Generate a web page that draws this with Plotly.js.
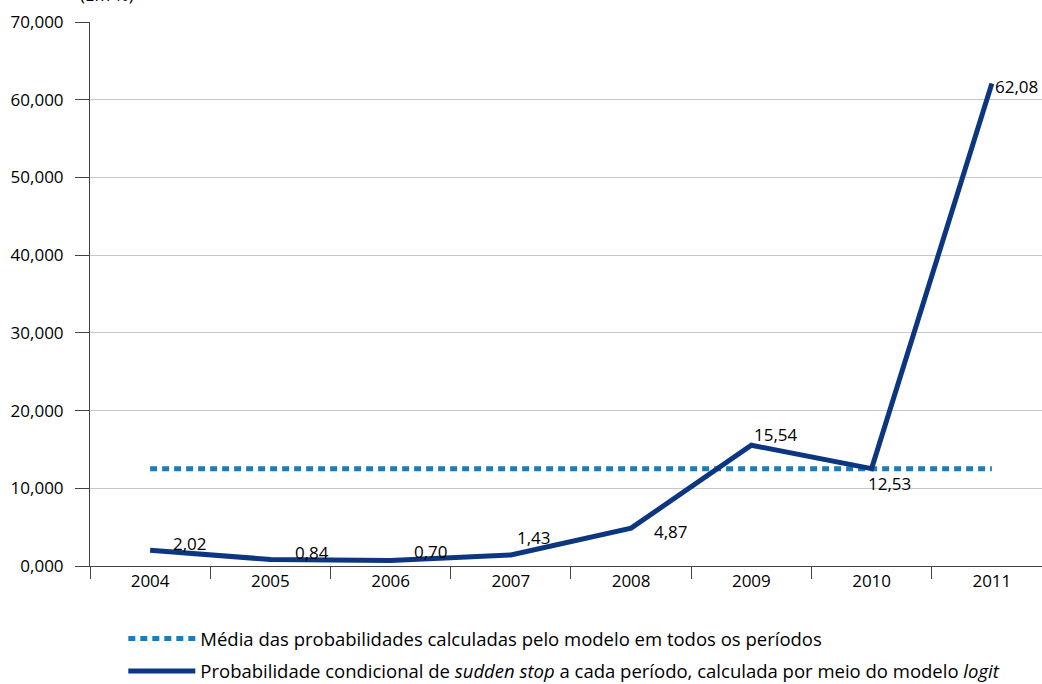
<!DOCTYPE html>
<html>
<head>
<meta charset="utf-8">
<script src="https://cdn.plot.ly/plotly-3.0.1.min.js"></script>
<style>html,body{margin:0;padding:0;background:#fff;}#chart{width:1042px;height:684px;}</style>
</head>
<body>
<div id="chart"></div>
<script>
const years = ['2004','2005','2006','2007','2008','2009','2010','2011'];
const probValues = [2.02, 0.84, 0.70, 1.43, 4.87, 15.54, 12.53, 62.08];
const probLabels = ['2,02','0,84','0,70','1,43','4,87','15,54','12,53','62,08'];
const meanValue = 12.50;
const yTickVals = [0, 10, 20, 30, 40, 50, 60, 70];
const yTickText = ['0,000','10,000','20,000','30,000','40,000','50,000','60,000','70,000'];
const meanName = 'Média das probabilidades calculadas pelo modelo em todos os períodos';
const probName = 'Probabilidade condicional de <i>sudden stop</i> a cada período, calculada por meio do modelo <i>logit</i>';
const unitLabel = '(Em %)';

const FONT = 'Open Sans, Noto Sans, sans-serif';
const FS = 17;
const LFS = 18.5;
// label offsets (px) for each data label
const labelOffsets = [[40,7],[42,7],[40,9],[23,17],[40,-3],[25,11],[18,-15],[25,-3]];

const traces = [
  {
    x: years, y: years.map(() => meanValue), type: 'scatter', mode: 'lines',
    name: meanName, legend: 'legend',
    line: {color: '#1a7db8', width: 5, dash: '7px,5px'}
  },
  {
    x: years, y: probValues, type: 'scatter', mode: 'lines',
    name: probName, legend: 'legend2',
    line: {color: '#0d3680', width: 5}
  }
];

const annotations = probLabels.map((t, i) => ({
  x: i, y: probValues[i], xref: 'x', yref: 'y', text: t, showarrow: false,
  xanchor: 'center', yanchor: 'middle',
  xshift: labelOffsets[i][0], yshift: labelOffsets[i][1],
  font: {family: FONT, size: FS, color: '#000'}
}));
annotations.push({
  x: 0.018, y: 1, xref: 'paper', yref: 'paper', xanchor: 'center', yanchor: 'bottom', yshift: 14,
  text: unitLabel, showarrow: false, font: {family: FONT, size: FS, color: '#000'}
});

const layout = {
  width: 1042, height: 684,
  margin: {l: 90, r: 0, t: 22, b: 118, autoexpand: false},
  paper_bgcolor: '#fff', plot_bgcolor: '#fff',
  font: {family: FONT, size: FS, color: '#000'},
  xaxis: {
    type: 'category', range: [-0.5, 7.417], tickson: 'boundaries',
    ticks: 'outside', ticklen: 12, tickcolor: '#444', tickwidth: 1,
    showline: true, linecolor: '#444', linewidth: 1,
    showgrid: false, zeroline: false, tickfont: {size: FS, family: FONT}
  },
  yaxis: {
    range: [0, 70], tickvals: yTickVals, ticktext: yTickText,
    ticks: 'outside', ticklen: 14, tickcolor: '#444', tickwidth: 1,
    showline: true, linecolor: '#444', linewidth: 1,
    showgrid: true, gridcolor: '#c8c8c8', gridwidth: 1, zeroline: false,
    ticklabelstandoff: 8, tickfont: {size: FS, family: FONT}
  },
  showlegend: true,
  legend: {x: 0.035, y: -0.134, xanchor: 'left', yanchor: 'middle', xref: 'paper', yref: 'paper',
           bgcolor: 'rgba(0,0,0,0)', font: {size: LFS, family: FONT}, itemwidth: 67},
  legend2: {x: 0.035, y: -0.194, xanchor: 'left', yanchor: 'middle', xref: 'paper', yref: 'paper',
           bgcolor: 'rgba(0,0,0,0)', font: {size: LFS, family: FONT}, itemwidth: 67},
  annotations: annotations
};

Plotly.newPlot('chart', traces, layout, {displayModeBar: false, staticPlot: true});
</script>
</body>
</html>
